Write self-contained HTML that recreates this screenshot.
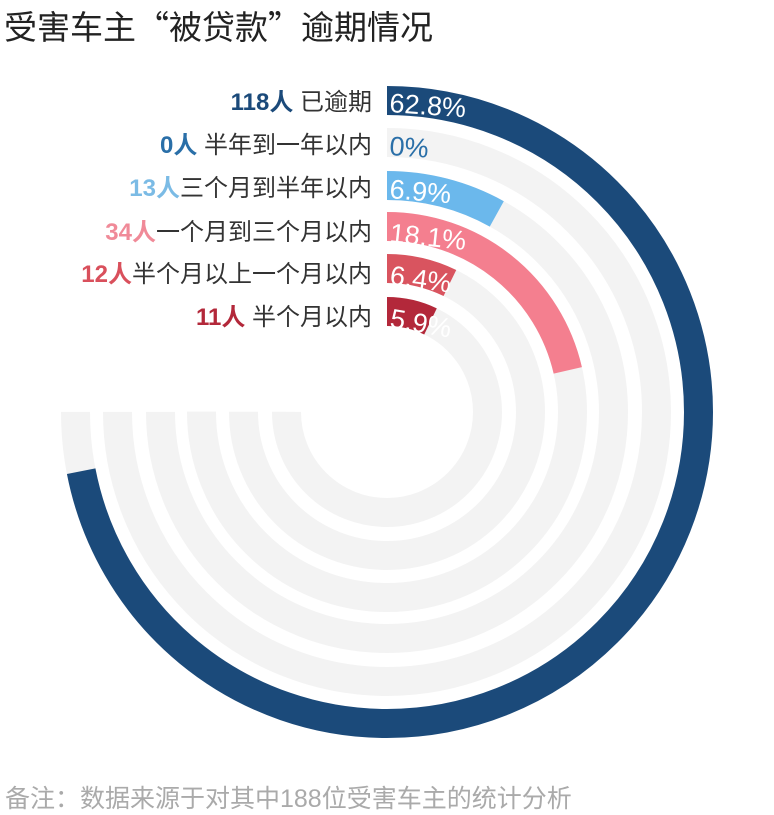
<!DOCTYPE html>
<html><head><meta charset="utf-8"><style>
html,body{margin:0;padding:0;background:#fff;width:774px;height:815px;overflow:hidden}
svg{display:block}
text{font-family:"Liberation Sans","Noto Sans CJK SC",sans-serif}
</style></head><body>
<svg width="774" height="815" viewBox="0 0 774 815" xmlns="http://www.w3.org/2000/svg">
<text x="4" y="39" font-size="33" fill="#222">受害车主<tspan font-family="Noto Sans CJK SC, sans-serif">“</tspan>被贷款<tspan font-family="Noto Sans CJK SC, sans-serif">”</tspan>逾期情况</text>
<g transform="rotate(-90 387 412)" fill="none" stroke-width="29">
<circle cx="387" cy="412" r="311.5" stroke="#f3f3f3" stroke-dasharray="1467.9 3000"/>
<circle cx="387" cy="412" r="269.5" stroke="#f3f3f3" stroke-dasharray="1270 3000"/>
<circle cx="387" cy="412" r="226.5" stroke="#f3f3f3" stroke-dasharray="1067.3 3000"/>
<circle cx="387" cy="412" r="185.5" stroke="#f3f3f3" stroke-dasharray="874.2 3000"/>
<circle cx="387" cy="412" r="143.5" stroke="#f3f3f3" stroke-dasharray="676.2 3000"/>
<circle cx="387" cy="412" r="100.5" stroke="#f3f3f3" stroke-dasharray="473.6 3000"/>
<circle cx="387" cy="412" r="311.5" stroke="#1b4a7a" stroke-dasharray="1408.2 3000"/>
<circle cx="387" cy="412" r="226.5" stroke="#6bb8ec" stroke-dasharray="114.6 3000"/>
<circle cx="387" cy="412" r="185.5" stroke="#f47f8f" stroke-dasharray="249.3 3000"/>
<circle cx="387" cy="412" r="143.5" stroke="#d9545f" stroke-dasharray="65.1 3000"/>
<circle cx="387" cy="412" r="100.5" stroke="#b3283a" stroke-dasharray="45 3000"/>
</g>
<g font-size="27" fill="#fff">
<text x="389" y="112" transform="rotate(4 389 112)">62.8%</text>
<text x="389" y="155" fill="#2a6fa8" transform="rotate(4 389 155)">0%</text>
<text x="389" y="198" transform="rotate(5 389 198)">6.9%</text>
<text x="389" y="242" transform="rotate(6 389 242)">18.1%</text>
<text x="389" y="284" transform="rotate(8 389 284)">6.4%</text>
<text x="389" y="327" transform="rotate(10 389 327)">5.9%</text>
</g>
<g font-size="24" text-anchor="end" fill="#333">
<text x="372" y="110"><tspan fill="#1b4a7a" font-weight="bold">118人</tspan> 已逾期</text>
<text x="372" y="153"><tspan fill="#2a6fa8" font-weight="bold">0人</tspan> 半年到一年以内</text>
<text x="372" y="196"><tspan fill="#7bbbe5" font-weight="bold">13人</tspan>三个月到半年以内</text>
<text x="372" y="240"><tspan fill="#f08a98" font-weight="bold">34人</tspan>一个月到三个月以内</text>
<text x="372" y="282"><tspan fill="#d9505c" font-weight="bold">12人</tspan>半个月以上一个月以内</text>
<text x="372" y="325"><tspan fill="#b3283a" font-weight="bold">11人</tspan> 半个月以内</text>
</g>
<text x="5" y="807" font-size="25" fill="#aaa">备注：数据来源于对其中188位受害车主的统计分析</text>
</svg>
</body></html>
